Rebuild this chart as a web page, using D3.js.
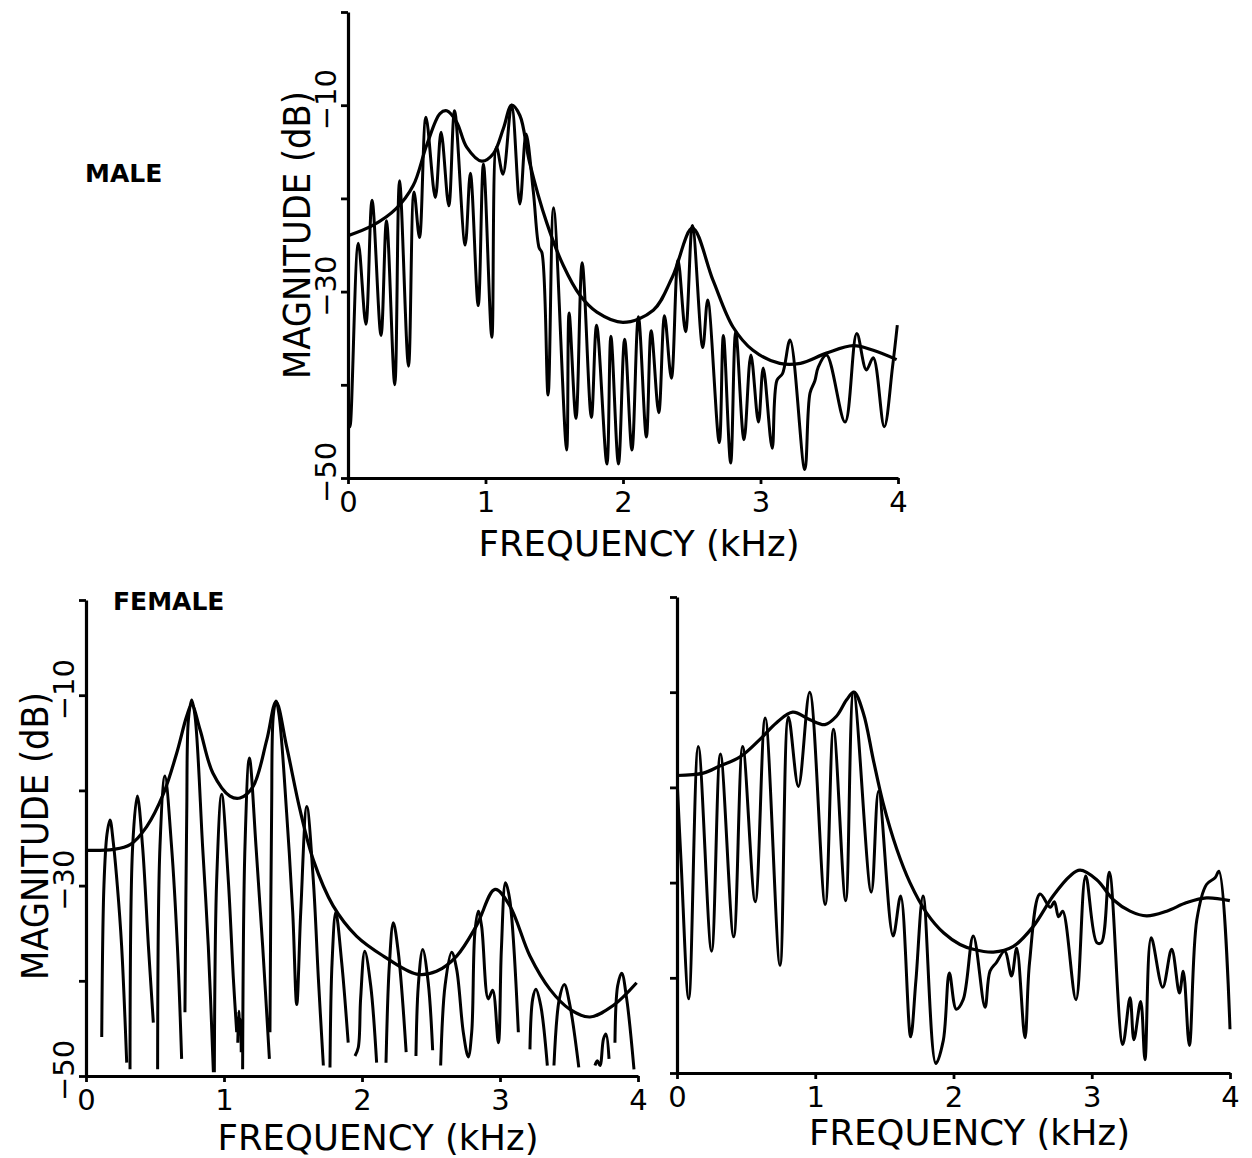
<!DOCTYPE html>
<html>
<head>
<meta charset="utf-8">
<script src="https://cdn.jsdelivr.net/npm/d3@7"></script>
<style>
  body { margin: 0; background: #fff; }
  svg { display: block; }
</style>
</head>
<body>
<svg id="chart" width="1252" height="1158"></svg>
<script>
/*
Data: frequency in kHz, magnitude in dB
*/

const xTicks = [0, 1, 2, 3, 4];
const yTicks = [0, -10, -20, -30, -40, -50];
const yLabelTicks = [-10, -30, -50];

// MALE: harmonic spectrum
const maleHarmFreq = [0.0, 0.015, 0.075, 0.13, 0.175, 0.24, 0.28, 0.34, 0.375, 0.44, 0.48, 0.52,
  0.567, 0.635, 0.677, 0.733, 0.775, 0.852, 0.89, 0.947, 0.985, 1.046, 1.08, 1.127, 1.19, 1.25,
  1.295, 1.348, 1.39, 1.41, 1.455, 1.495, 1.59, 1.608, 1.658, 1.703, 1.77, 1.808, 1.883, 1.912,
  1.967, 2.012, 2.065, 2.112, 2.17, 2.205, 2.26, 2.302, 2.352, 2.40, 2.455, 2.505, 2.58, 2.616,
  2.70, 2.73, 2.783, 2.82, 2.88, 2.93, 2.985, 3.02, 3.085, 3.12, 3.16, 3.215, 3.322, 3.36, 3.395,
  3.42, 3.48, 3.615, 3.70, 3.77, 3.82, 3.90, 3.96, 3.995];
const maleHarmDb = [-42.0, -44.5, -24.8, -33.5, -20.2, -34.7, -22.4, -40.0, -18.1, -38.0, -19.3, -24.2,
  -11.3, -19.9, -12.9, -20.8, -10.6, -25.0, -17.3, -31.5, -16.3, -34.9, -14.5, -17.4, -10.0, -20.6,
  -13.1, -19.3, -25.3, -25.8, -41.1, -21.0, -47.0, -32.3, -43.6, -26.9, -43.5, -33.6, -48.5, -34.8,
  -48.5, -35.1, -47.0, -32.7, -45.6, -34.2, -43.0, -32.6, -39.3, -26.6, -34.3, -22.9, -36.0, -30.9,
  -46.2, -34.7, -48.4, -34.3, -45.9, -36.8, -44.0, -38.2, -46.8, -39.5, -38.8, -35.2, -49.1, -40.9, -39.6,
  -38.1, -36.8, -44.0, -34.5, -38.4, -37.1, -44.5, -38.1, -33.6];

// MALE: spectral envelope
const maleEnvFreq = [0, 0.18, 0.35, 0.475, 0.572, 0.669, 0.718, 0.79, 0.863, 0.972, 1.057, 1.13, 1.19,
  1.25, 1.32, 1.445, 1.566, 1.687, 1.81, 2.0, 2.22, 2.36, 2.505, 2.655, 2.80, 2.945, 3.14, 3.29,
  3.48, 3.675, 3.82, 3.99];
const maleEnvDb = [-24.0, -22.9, -21.1, -18.6, -14.3, -10.9, -10.6, -11.8, -14.5, -16.0, -15.2, -12.5, -10.0,
  -11.1, -16.1, -22.6, -27.2, -30.4, -32.2, -33.3, -32.0, -28.4, -23.2, -28.8, -33.8, -36.3, -37.7, -37.7,
  -36.6, -35.8, -36.3, -37.3];

// FEMALE: harmonic spectrum (null = break, where the trace drops out at the floor)
const femaleHarmFreq = [
  0.114, 0.13, 0.152, 0.174, 0.198, 0.227, 0.258, 0.295, null,
  0.319, 0.338, 0.372, 0.41, 0.452, 0.488, null,
  0.519, 0.536, 0.572, 0.62, 0.662, 0.693, null,
  0.717, 0.73, 0.742, 0.766, 0.79, 0.845, 0.886, 0.923, null,
  0.93, 0.947, 0.983, 1.031, 1.068, 1.092, null,
  1.1, 1.107, 1.115, 1.12, 1.125, null,
  1.135, 1.152, 1.184, 1.232, 1.28, 1.329, null,
  1.333, 1.345, 1.357, 1.377, 1.40, 1.454, 1.498, 1.527, 1.556, 1.60, 1.647, 1.684, 1.72, null,
  1.768, 1.783, 1.81, 1.853, 1.90, null,
  1.949, 1.973, 1.99, 2.02, 2.063, 2.106, null,
  2.174, 2.198, 2.227, 2.263, 2.32, null,
  2.391, 2.408, 2.44, 2.48, 2.512, null,
  2.57, 2.602, 2.65, 2.686, 2.734, 2.77, 2.795, 2.818, 2.843, 2.867, 2.915, 2.947, 2.988, 3.01, 3.04, 3.07, 3.133, null,
  3.217, 3.237, 3.26, 3.295, 3.343, null,
  3.391, 3.43, 3.466, 3.507, 3.571, null,
  3.688, 3.705, 3.725, 3.75, 3.768, 3.79, null,
  3.833, 3.853, 3.882, 3.918, 3.971];
const femaleHarmDb = [
  -45.9, -30.0, -24.6, -23.1, -25.5, -30.0, -36.3, -48.6, null,
  -49.3, -25.9, -20.6, -25.9, -36.3, -44.4, null,
  -49.3, -25.9, -18.5, -25.9, -36.3, -48.2, null,
  -43.3, -22.4, -12.6, -10.5, -12.2, -25.9, -36.3, -49.6, null,
  -49.6, -29.4, -20.4, -29.4, -39.8, -45.4, null,
  -46.5, -43.2, -45.6, -44.0, -47.5, null,
  -49.3, -25.9, -16.6, -25.9, -36.3, -48.2, null,
  -45.4, -22.4, -12.2, -10.6, -12.2, -22.4, -32.8, -42.5, -32.8, -21.7, -29.4, -39.8, -48.9, null,
  -49.1, -38.1, -32.8, -38.1, -46.5, null,
  -47.9, -47.0, -41.9, -36.9, -40.5, -48.6, null,
  -48.6, -38.4, -33.9, -37.0, -47.5, null,
  -47.9, -40.5, -36.7, -40.2, -47.3, null,
  -48.9, -40.5, -37.0, -38.8, -45.4, -48.0, -45.4, -34.9, -32.7, -34.3, -41.9, -41.0, -46.5, -36.7, -29.7, -31.4, -45.4, null,
  -47.2, -41.9, -40.9, -42.6, -48.9, null,
  -48.9, -41.9, -40.4, -42.6, -49.1, null,
  -48.9, -48.4, -48.9, -46.1, -45.6, -48.2, null,
  -46.5, -40.5, -39.2, -41.9, -49.3];

// FEMALE: spectral envelope
const femaleEnvFreq = [0, 0.2, 0.32, 0.44, 0.56, 0.657, 0.73, 0.766, 0.826, 0.92, 1.043, 1.116, 1.21,
  1.31, 1.377, 1.454, 1.55, 1.647, 1.79, 1.96, 2.155, 2.396, 2.54, 2.686, 2.83, 2.964, 3.07, 3.217,
  3.362, 3.507, 3.652, 3.82, 3.99];
const femaleEnvDb = [-26.3, -26.2, -25.7, -23.8, -20.4, -16.1, -12.2, -11.0, -13.6, -18.2, -20.6, -20.8, -19.6,
  -14.7, -10.7, -15.4, -22.0, -27.3, -32.1, -35.3, -37.4, -39.3, -39.0, -37.4, -34.2, -30.4, -32.1, -37.4,
  -40.9, -43.0, -43.8, -42.6, -40.2];

// Third panel (unlabelled): harmonic spectrum
const thirdHarmFreq = [0.0, 0.03, 0.085, 0.154, 0.25, 0.314, 0.41, 0.475, 0.566, 0.638, 0.745, 0.806,
  0.878, 0.96, 1.072, 1.132, 1.22, 1.277, 1.405, 1.458, 1.563, 1.618, 1.69, 1.728, 1.78, 1.872,
  1.926, 1.97, 2.02, 2.07, 2.143, 2.228, 2.264, 2.31, 2.37, 2.42, 2.457, 2.517, 2.55, 2.626, 2.70,
  2.73, 2.76, 2.79, 2.886, 2.956, 3.036, 3.07, 3.127, 3.224, 3.277, 3.305, 3.354, 3.385, 3.43,
  3.513, 3.578, 3.634, 3.662, 3.706, 3.76, 3.83, 3.892, 3.92, 4.0];
const thirdHarmDb = [-19.0, -28.0, -42.2, -15.7, -37.2, -16.5, -35.7, -15.7, -32.0, -12.7, -38.7, -12.6,
  -19.9, -10.0, -32.3, -13.9, -31.9, -10.0, -31.0, -20.4, -35.6, -31.4, -46.2, -40.3, -31.4, -49.0,
  -46.6, -39.5, -43.3, -42.3, -35.6, -43.1, -39.3, -38.4, -37.2, -39.8, -36.9, -46.3, -38.4, -31.2, -32.6,
  -32.0, -33.6, -33.0, -42.3, -29.3, -36.3, -36.3, -28.9, -47.0, -42.1, -46.5, -42.5, -48.6, -35.8,
  -41.0, -37.0, -41.6, -39.3, -47.1, -33.9, -30.2, -29.5, -28.8, -45.4];

// Third panel: spectral envelope
const thirdEnvFreq = [0, 0.19, 0.31, 0.456, 0.60, 0.72, 0.837, 0.962, 1.07, 1.155, 1.227, 1.28, 1.348,
  1.42, 1.49, 1.59, 1.685, 1.806, 1.93, 2.047, 2.143, 2.288, 2.433, 2.577, 2.72, 2.843, 2.915, 3.036,
  3.156, 3.277, 3.397, 3.542, 3.687, 3.83, 3.999];
const thirdEnvDb = [-18.75, -18.5, -17.75, -16.8, -14.95, -13.2, -12.1, -12.9, -13.4, -12.5, -10.8, -10.0, -12.2,
  -17.1, -21.6, -26.5, -30.0, -33.2, -35.3, -36.5, -37.0, -37.3, -36.7, -34.6, -31.4, -29.3, -28.7, -29.7,
  -31.8, -33.0, -33.5, -33.0, -32.1, -31.6, -31.9];

/*
Layout
*/

const panels = [
  { id: "male",   x0: 348, x1: 898,  yTop: 12,  yBot: 478, harmF: maleHarmFreq,   harmD: maleHarmDb,
    envF: maleEnvFreq,   envD: maleEnvDb,   yLabels: true,  yTitleY: 235, xTitleDy: 78,
    name: "MALE",   nameX: 85,  nameY: 182 },
  { id: "female", x0: 86,  x1: 638,  yTop: 600, yBot: 1076, harmF: femaleHarmFreq, harmD: femaleHarmDb,
    envF: femaleEnvFreq, envD: femaleEnvDb, yLabels: true,  yTitleY: 836, xTitleDy: 74,
    name: "FEMALE", nameX: 113, nameY: 610 },
  { id: "third",  x0: 677, x1: 1230, yTop: 597, yBot: 1073, harmF: thirdHarmFreq,  harmD: thirdHarmDb,
    envF: thirdEnvFreq,  envD: thirdEnvDb,  yLabels: false, xTitleDy: 72 }
];

const svg = d3.select("#chart");
const FONT = "'DejaVu Sans', Verdana, sans-serif";

function drawPanel(p) {
  const x = d3.scaleLinear().domain([0, 4]).range([p.x0, p.x1]);
  const y = d3.scaleLinear().domain([-50, 0]).range([p.yBot, p.yTop]);
  const g = svg.append("g").attr("class", "panel-" + p.id);

  // keep the curves inside the frame
  svg.append("clipPath").attr("id", "clip-" + p.id)
    .append("rect")
    .attr("x", p.x0).attr("y", p.yTop - 4)
    .attr("width", p.x1 - p.x0 + 3).attr("height", p.yBot - p.yTop + 4);

  const line = d3.line()
    .defined(d => d[0] !== null && d[1] !== null)
    .x(d => x(d[0]))
    .y(d => y(d[1]))
    .curve(d3.curveCatmullRom.alpha(0.5));

  const curves = g.append("g").attr("clip-path", "url(#clip-" + p.id + ")");

  curves.append("path")
    .datum(d3.zip(p.harmF, p.harmD))
    .attr("d", line)
    .attr("fill", "none")
    .attr("stroke", "#000")
    .attr("stroke-width", 3)
    .attr("stroke-linejoin", "round");

  curves.append("path")
    .datum(d3.zip(p.envF, p.envD))
    .attr("d", line)
    .attr("fill", "none")
    .attr("stroke", "#000")
    .attr("stroke-width", 3.2);

  // x axis
  const xa = g.append("g")
    .attr("transform", "translate(0," + p.yBot + ")")
    .call(d3.axisBottom(x).tickValues(xTicks).tickSize(6).tickSizeOuter(0)
      .tickPadding(7).tickFormat(d3.format("d")));

  // y axis
  const ya = g.append("g")
    .attr("transform", "translate(" + p.x0 + ",0)")
    .call(d3.axisLeft(y).tickValues(yTicks).tickSize(7).tickSizeOuter(0)
      .tickFormat(d => (p.yLabels && yLabelTicks.includes(d)) ? "\u2212" + Math.abs(d) : ""));

  ya.selectAll(".tick text")
    .attr("transform", "rotate(-90)")
    .attr("x", 6)
    .attr("y", -12)
    .attr("dy", 0)
    .attr("text-anchor", "middle");

  [xa, ya].forEach(a => {
    a.selectAll(".domain").attr("stroke", "#000").attr("stroke-width", 3.2);
    a.selectAll(".tick line").attr("stroke", "#000").attr("stroke-width", 2.8);
    a.selectAll(".tick text")
      .attr("fill", "#000")
      .style("font-family", FONT)
      .style("font-size", "29px");
  });

  // titles
  g.append("text")
    .attr("x", (p.x0 + p.x1) / 2 + 16)
    .attr("y", p.yBot + p.xTitleDy)
    .attr("text-anchor", "middle")
    .attr("textLength", 321)
    .attr("lengthAdjust", "spacingAndGlyphs")
    .style("font-family", FONT)
    .style("font-size", "36px")
    .text("FREQUENCY (kHz)");

  if (p.yLabels) {
    g.append("text")
      .attr("transform", "translate(" + (p.x0 - 38) + "," + p.yTitleY + ") rotate(-90)")
      .attr("text-anchor", "middle")
      .attr("textLength", 288)
      .attr("lengthAdjust", "spacingAndGlyphs")
      .style("font-family", FONT)
      .style("font-size", "37px")
      .text("MAGNITUDE (dB)");
  }

  if (p.name) {
    svg.append("text")
      .attr("x", p.nameX)
      .attr("y", p.nameY)
      .style("font-family", FONT)
      .style("font-weight", "bold")
      .style("font-size", "25px")
      .text(p.name);
  }
}

panels.forEach(drawPanel);
</script>
</body>
</html>
